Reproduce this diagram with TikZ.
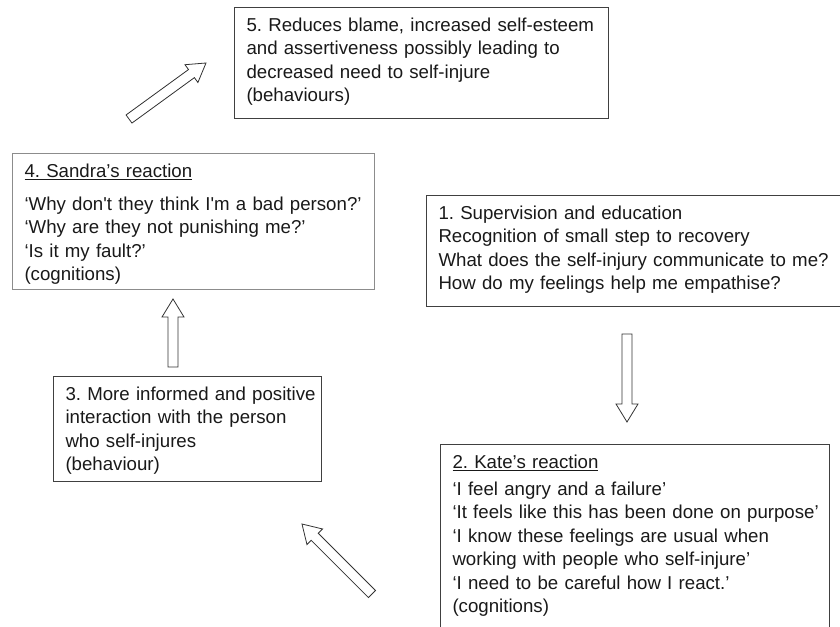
\documentclass[tikz,border=0pt]{standalone}
\usepackage{fontspec}
\setmainfont{Liberation Sans}
\usepackage{tikz}
\usetikzlibrary{calc}
\frenchspacing

\tikzset{
  stepbox/.style={draw=black!75, line width=0.75pt, anchor=north west, align=left,
    inner xsep=9pt, inner ysep=7.5pt, text height=10.5pt, text=black!90,
    font=\fontsize{14}{17.6}\selectfont},
  hollow/.style={draw=black!80, line width=0.6pt, fill=white, line join=miter},
}

% hollow block arrow, tail #1, tip #2
\newcommand{\blockarrow}[2]{%
  \draw[hollow] ($(#1)!3.75pt!90:(#2)$)
    -- ($(#2)!13.5pt!(#1)!3.75pt!-90:(#1)$)
    -- ($(#2)!13.5pt!(#1)!8.25pt!-90:(#1)$)
    -- (#2)
    -- ($(#2)!13.5pt!(#1)!8.25pt!90:(#1)$)
    -- ($(#2)!13.5pt!(#1)!3.75pt!90:(#1)$)
    -- ($(#1)!3.75pt!-90:(#2)$) -- cycle;}

\begin{document}
\begin{tikzpicture}[x=0.75pt,y=0.75pt,yscale=-1,xscale=1]
%set diagram size 840 x 626
\clip (0,0) rectangle (840,626);

%Shape: Rectangle [5]
\node[stepbox, text width=262.5pt, text depth=57.75pt] (reduces) at (234,7)
  {\mbox{5. Reduces blame, increased self-esteem}\\
   and assertiveness possibly leading to\\
   decreased need to self-injure\\
   (behaviours)};

%Shape: Rectangle [4]
\node[stepbox, draw=black!45, text width=253.5pt, text depth=76.5pt] (sandra) at (12,153)
  {\underline{4. Sandra’s reaction}\\[7pt]
   \mbox{‘Why don\textquotesingle t they think I\textquotesingle m a bad person?’}\\
   ‘Why are they not punishing me?’\\
   ‘Is it my fault?’\\
   (cognitions)};

%Shape: Rectangle [1]
\node[stepbox, text width=292.5pt, text depth=57.75pt] (supervision) at (426,195)
  {1. Supervision and education\\
   Recognition of small step to recovery\\
   \mbox{What does the self-injury communicate to me?}\\
   How do my feelings help me empathise?};

%Shape: Rectangle [3]
\node[stepbox, text width=183pt, text depth=53.25pt] (informed) at (53,376)
  {\mbox{3. More informed and positive}\\
   interaction with the person\\
   who self-injures\\
   (behaviour)};

%Shape: Rectangle [2]
\node[stepbox, text width=273.75pt, text depth=124.5pt] (kate) at (440,444)
  {\underline{2. Kate’s reaction}\\[2.5pt]
   ‘I feel angry and a failure’\\
   \mbox{‘It feels like this has been done on purpose’}\\
   ‘I know these feelings are usual when\\
   working with people who self-injure’\\
   ‘I need to be careful how I react.’\\
   (cognitions)};

%Block Arrows
\coordinate (a1s) at (627,334);
\coordinate (a1e) at (627,422);
\coordinate (a2s) at (372,594);
\coordinate (a2e) at (302,524);
\coordinate (a3s) at (173,367);
\coordinate (a3e) at (173,299);
\coordinate (a4s) at (129,119);
\coordinate (a4e) at (206,63);

\blockarrow{a1s}{a1e}
\blockarrow{a2s}{a2e}
\blockarrow{a3s}{a3e}
\blockarrow{a4s}{a4e}

\end{tikzpicture}
\end{document}
